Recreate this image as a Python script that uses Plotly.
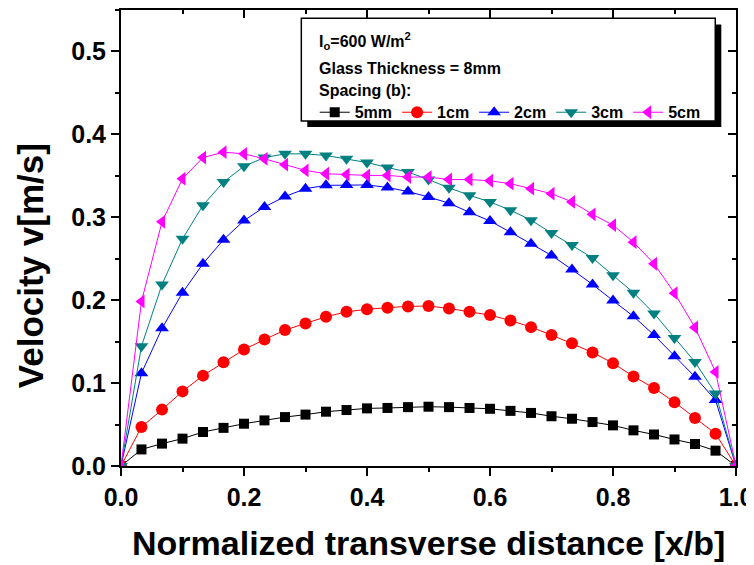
import plotly.graph_objects as go

# ---- data ----
x_norm = [0.0, 0.0333, 0.0667, 0.1, 0.1333, 0.1667, 0.2, 0.2333, 0.2667, 0.3,
          0.3333, 0.3667, 0.4, 0.4333, 0.4667, 0.5, 0.5333, 0.5667, 0.6, 0.6333,
          0.6667, 0.7, 0.7333, 0.7667, 0.8, 0.8333, 0.8667, 0.9, 0.9333, 0.9667, 1.0]

v_5mm = [0, 0.020, 0.027, 0.033, 0.041, 0.046, 0.051, 0.055, 0.059, 0.062,
         0.0655, 0.0675, 0.0695, 0.070, 0.071, 0.0715, 0.071, 0.070, 0.069, 0.0665,
         0.064, 0.060, 0.057, 0.053, 0.049, 0.043, 0.038, 0.032, 0.0265, 0.0185, 0]
v_1cm = [0, 0.047, 0.068, 0.090, 0.109, 0.125, 0.1405, 0.1525, 0.164, 0.172,
         0.180, 0.186, 0.189, 0.191, 0.1925, 0.193, 0.190, 0.186, 0.182, 0.1755,
         0.1675, 0.158, 0.148, 0.137, 0.124, 0.108, 0.094, 0.077, 0.058, 0.039, 0]
v_2cm = [0, 0.112, 0.166, 0.209, 0.244, 0.273, 0.296, 0.3125, 0.325, 0.3345,
         0.3385, 0.339, 0.339, 0.336, 0.331, 0.3245, 0.317, 0.306, 0.2955, 0.282,
         0.268, 0.254, 0.237, 0.219, 0.1995, 0.1805, 0.158, 0.1325, 0.1075, 0.0795, 0]
v_3cm = [0, 0.1445, 0.219, 0.274, 0.3145, 0.3425, 0.3615, 0.372, 0.3765, 0.3765,
         0.3745, 0.3705, 0.366, 0.360, 0.3545, 0.3455, 0.3355, 0.3265, 0.3185, 0.3085,
         0.2965, 0.281, 0.2665, 0.251, 0.230, 0.209, 0.184, 0.1545, 0.1255, 0.0875, 0]
v_5cm = [0, 0.1985, 0.2945, 0.3465, 0.372, 0.3785, 0.3765, 0.3705, 0.3635, 0.3565,
         0.3525, 0.3515, 0.3505, 0.3505, 0.3485, 0.3485, 0.3455, 0.3455, 0.344, 0.3405,
         0.3345, 0.3285, 0.3185, 0.3035, 0.2905, 0.270, 0.244, 0.2085, 0.167, 0.1135, 0]

series_names = ["5mm", "1cm", "2cm", "3cm", "5cm"]
series_values = [v_5mm, v_1cm, v_2cm, v_3cm, v_5cm]
series_colors = ["#000000", "#FF0000", "#0000FF", "#008080", "#FF00FF"]
series_symbols = ["square", "circle", "triangle-up", "triangle-down", "triangle-left"]
series_sizes = [10, 12, 12, 12, 12]

x_tick_vals = [0.0, 0.2, 0.4, 0.6, 0.8, 1.0]
y_tick_vals = [0.0, 0.1, 0.2, 0.3, 0.4, 0.5]

FONT = "Liberation Sans, Arial, sans-serif"

fig = go.Figure()
for name, vals, col, sym, sz in zip(series_names, series_values, series_colors,
                                    series_symbols, series_sizes):
    fig.add_trace(go.Scatter(
        x=x_norm, y=vals, name=name, mode="lines+markers",
        line=dict(color=col, width=1),
        marker=dict(symbol=sym, size=sz, color=col, line=dict(width=0)),
    ))

# empty trace to carry the mirrored (inward-tick) top/right axes
fig.add_trace(go.Scatter(x=[], y=[], xaxis="x2", yaxis="y2", showlegend=False,
                         hoverinfo="skip"))

tickfont = dict(family=FONT, size=25, color="black", weight="bold")

fig.update_layout(
    width=746, height=557,
    margin=dict(l=113, r=18, t=2, b=99, autoexpand=False),
    paper_bgcolor="white", plot_bgcolor="white",
    showlegend=True,
    xaxis=dict(range=[0, 1], tickvals=x_tick_vals, tickformat=".1f",
               ticks="outside", ticklen=8, tickwidth=2, tickcolor="black",
               minor=dict(ticks="outside", dtick=0.1, tick0=0, ticklen=4,
                          tickwidth=2, tickcolor="black"),
               showline=True, linewidth=2, linecolor="black", mirror=True,
               showgrid=False, zeroline=False, tickfont=tickfont, automargin=False),
    yaxis=dict(range=[0, 0.55], tickvals=y_tick_vals, tickformat=".1f",
               ticks="outside", ticklen=8, tickwidth=2, tickcolor="black",
               minor=dict(ticks="outside", dtick=0.05, tick0=0, ticklen=4,
                          tickwidth=2, tickcolor="black"),
               showline=True, linewidth=2, linecolor="black", mirror=True,
               showgrid=False, zeroline=False, tickfont=tickfont, automargin=False),
    xaxis2=dict(range=[0, 1], overlaying="x", side="top", anchor="y",
                tickvals=x_tick_vals, showticklabels=False,
                ticks="inside", ticklen=8, tickwidth=2, tickcolor="black",
                minor=dict(ticks="inside", dtick=0.1, tick0=0, ticklen=4,
                           tickwidth=2, tickcolor="black"),
                showline=False, showgrid=False, zeroline=False, automargin=False),
    yaxis2=dict(range=[0, 0.55], overlaying="y", side="right", anchor="x",
                tickvals=y_tick_vals, showticklabels=False,
                ticks="inside", ticklen=8, tickwidth=2, tickcolor="black",
                minor=dict(ticks="inside", dtick=0.05, tick0=0, ticklen=4,
                           tickwidth=2, tickcolor="black"),
                showline=False, showgrid=False, zeroline=False, automargin=False),
    legend=dict(orientation="h", x=0.315, y=0.7756, xanchor="left", yanchor="middle",
                bgcolor="rgba(0,0,0,0)", borderwidth=0,
                font=dict(family=FONT, size=16, color="black", weight="bold"),
                tracegroupgap=0),
)

# legend frame with drop shadow
fig.add_shape(type="rect", xref="paper", yref="paper",
              x0=0.3029, x1=0.9761, y0=0.7434, y1=0.9680,
              fillcolor="black", line=dict(width=0), layer="below")
fig.add_shape(type="rect", xref="paper", yref="paper",
              x0=0.2932, x1=0.9663, y0=0.7566, y1=0.9818,
              fillcolor="white", line=dict(color="black", width=1.5), layer="below")

ann_font = dict(family=FONT, size=16, color="black", weight="bold")
legend_texts = ["I<sub>o</sub>=600 W/m<sup>2</sup>", "Glass Thickness = 8mm", "Spacing (b):"]
legend_text_y = [0.932, 0.8707, 0.823]
for t, yy in zip(legend_texts, legend_text_y):
    fig.add_annotation(text=t, xref="paper", yref="paper", x=0.3187, y=yy,
                       xanchor="left", yanchor="middle", showarrow=False, font=ann_font)

fig.add_annotation(text="Normalized transverse distance [x/b]", xref="paper", yref="paper",
                   x=0.5, y=-0.1695, xanchor="center", yanchor="middle",
                   showarrow=False,
                   font=dict(family=FONT, size=34, color="black", weight="bold"))
fig.add_annotation(text="Velocity v[m/s]", xref="paper", yref="paper",
                   x=-0.146, y=0.4386, xanchor="center", yanchor="middle",
                   textangle=-90, showarrow=False,
                   font=dict(family=FONT, size=35, color="black", weight="bold"))

fig.write_html("out.html")
